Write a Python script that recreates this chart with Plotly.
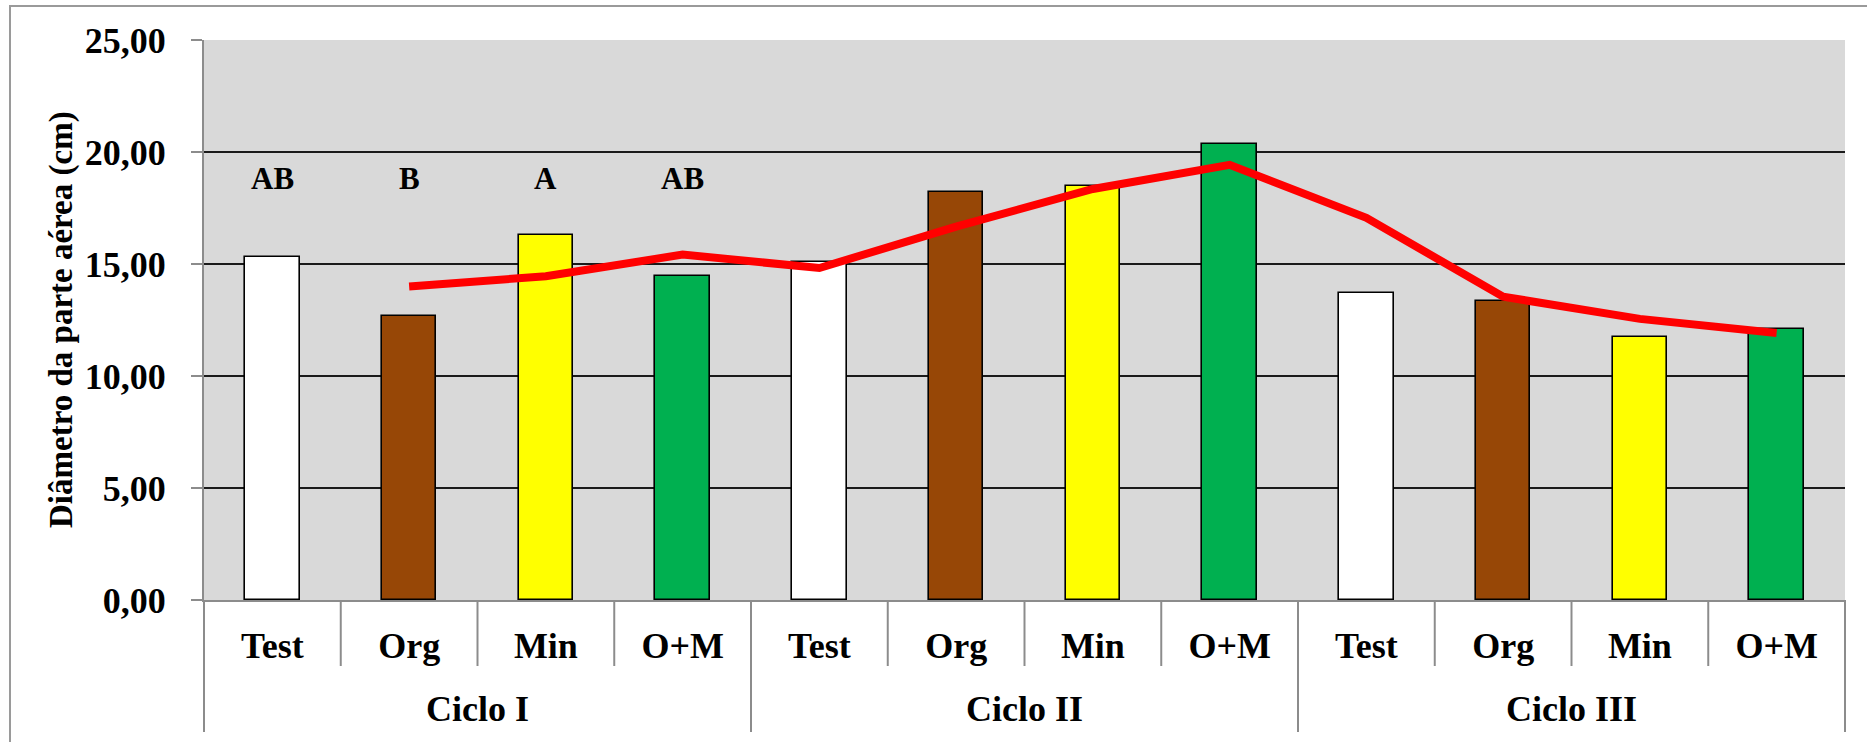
import plotly.graph_objects as go

# Categories
cycles = ["Ciclo I", "Ciclo II", "Ciclo III"]
treatments = ["Test", "Org", "Min", "O+M"]
treatment_colors = ["#FFFFFF", "#974706", "#FFFF00", "#00B050"]

# Shoot diameter (cm) per cycle, in treatment order
ciclo_1 = [15.30, 12.68, 16.31, 14.48]
ciclo_2 = [15.10, 18.23, 18.50, 20.36]
ciclo_3 = [13.72, 13.35, 11.73, 12.08]

# Trend line, from the 2nd bar onward
trend = [14.00, 14.45, 15.42, 14.82, 16.67, 18.35, 19.43, 17.06, 13.54, 12.55, 11.92]

# Significance letters above the first cycle
letters_ciclo_1 = ["AB", "B", "A", "AB"]
letter_height = 18.8

y_ticks = [0, 5, 10, 15, 20, 25]

# Page geometry
W, H = 1867, 742
ML, MR, MT, MB = 204, 22, 40, 142

FONT = "Liberation Serif, Times New Roman, serif"
GRAY = "#8c8c8c"

series = [ciclo_1, ciclo_2, ciclo_3]
n_t = len(treatments)
n_all = len(cycles) * n_t

xs, ys, cols, labels = [], [], [], []
for ci, vals in enumerate(series):
    for ti, v in enumerate(vals):
        xs.append(ci * n_t + ti)
        ys.append(v)
        cols.append(treatment_colors[ti])
        labels.append(treatments[ti])

fig = go.Figure()

fig.add_trace(go.Bar(
    x=xs, y=ys, width=0.4,
    marker=dict(color=cols, line=dict(color="#000000", width=1.6)),
    showlegend=False, hoverinfo="x+y",
))

fig.add_trace(go.Scatter(
    x=xs[1:], y=trend, mode="lines",
    line=dict(color="#FF0000", width=8),
    showlegend=False,
))

# Letters over the first cycle's bars
for ti, txt in enumerate(letters_ciclo_1):
    fig.add_annotation(
        x=xs[ti], y=letter_height, text=txt, showarrow=False,
        font=dict(family=FONT, size=31, color="#000000", weight="bold"),
        xanchor="center", yanchor="middle",
    )

# Cycle labels under the treatment labels
for ci, name in enumerate(cycles):
    centre = sum(xs[ci * n_t:(ci + 1) * n_t]) / n_t
    fig.add_annotation(
        x=centre, xref="x", y=0, yref="paper", yshift=-109,
        text=name, showarrow=False,
        font=dict(family=FONT, size=36, color="#000000", weight="bold"),
        xanchor="center", yanchor="middle",
    )

# Y axis title
fig.add_annotation(
    x=0, xref="paper", xshift=-143, y=0.5, yref="paper",
    text="Diâmetro da parte aérea (cm)", textangle=-90, showarrow=False,
    font=dict(family=FONT, size=33, color="#000000", weight="bold"),
    xanchor="center", yanchor="middle",
)

shapes = []
# Short separators between treatments
for k in range(n_all - 1):
    if (k + 1) % n_t == 0:
        continue
    shapes.append(dict(
        type="line", xref="x", x0=k + 0.5, x1=k + 0.5,
        yref="paper", ysizemode="pixel", yanchor=0, y0=0, y1=-66,
        line=dict(color=GRAY, width=2),
    ))
# Long separators between cycles
for ci in range(1, len(cycles)):
    b = ci * n_t - 0.5
    shapes.append(dict(
        type="line", xref="x", x0=b, x1=b,
        yref="paper", ysizemode="pixel", yanchor=0, y0=0, y1=-132,
        line=dict(color=GRAY, width=2),
    ))
for edge in (0, 1):
    shapes.append(dict(
        type="line", xref="x domain", x0=edge, x1=edge,
        yref="paper", ysizemode="pixel", yanchor=0, y0=0, y1=-132,
        line=dict(color=GRAY, width=2),
    ))
# Outer frame of the chart area
shapes.append(dict(
    type="rect", xref="paper", xsizemode="pixel", xanchor=0,
    x0=10 - ML, x1=W + 6 - ML,
    yref="paper", ysizemode="pixel", yanchor=1,
    y0=MT - 6, y1=-(H + 6 - MT),
    line=dict(color="#9a9a9a", width=2), fillcolor="rgba(0,0,0,0)",
))

fig.update_layout(
    width=W, height=H,
    margin=dict(l=ML, r=MR, t=MT, b=MB, pad=0),
    paper_bgcolor="#FFFFFF", plot_bgcolor="#D9D9D9",
    separators=",.",
    font=dict(family=FONT, color="#000000"),
    shapes=shapes,
    bargap=0,
)

fig.update_xaxes(
    range=[-0.5, n_all - 0.5],
    tickmode="array", tickvals=xs, ticktext=labels,
    ticks="outside", ticklen=13, tickcolor="rgba(0,0,0,0)",
    tickfont=dict(family=FONT, size=36, color="#000000", weight="bold"),
    showgrid=False, zeroline=False,
    showline=True, linecolor=GRAY, linewidth=2,
)

fig.update_yaxes(
    range=[0, 25], tickmode="array", tickvals=y_ticks, tickformat=".2f",
    ticks="outside", ticklen=11, tickcolor=GRAY, tickwidth=2,
    ticklabelstandoff=18,
    tickfont=dict(family=FONT, size=36, color="#000000", weight="bold"),
    showgrid=True, gridcolor="#1a1a1a", gridwidth=2,
    zeroline=False,
    showline=True, linecolor=GRAY, linewidth=2,
)

fig.write_html("out.html")
